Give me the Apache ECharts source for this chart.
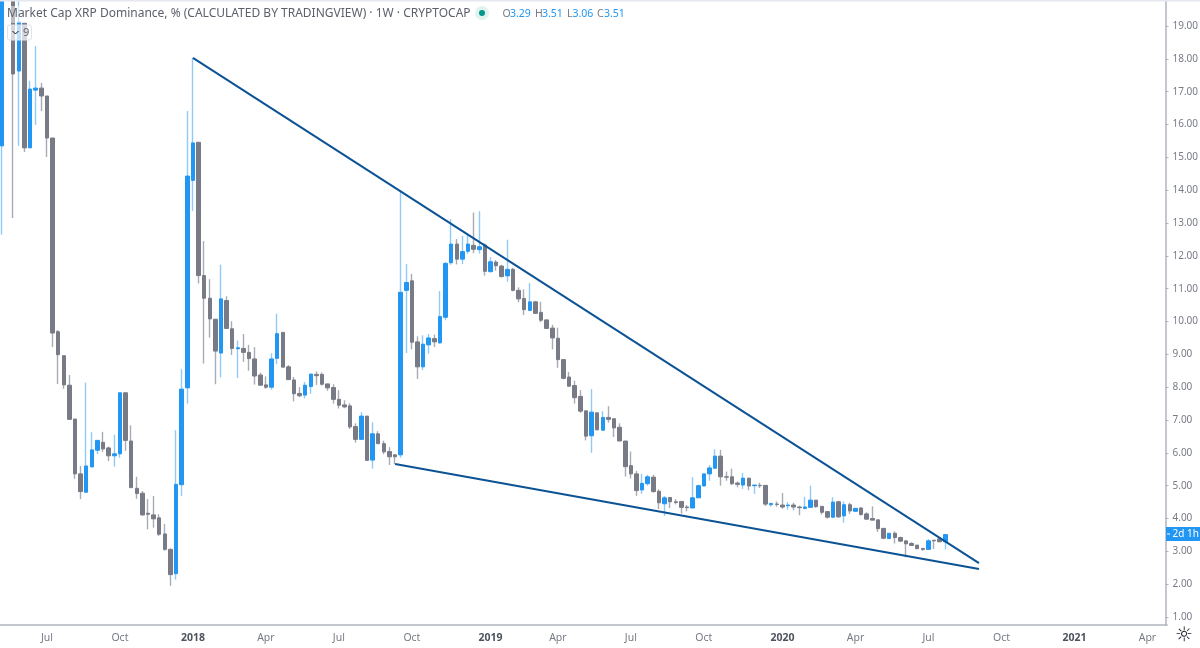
<!DOCTYPE html>
<html>
<head>
<meta charset="utf-8">
<style>html,body{margin:0;padding:0;background:#fff}#c{width:1200px;height:648px}</style>
<script src="https://cdn.jsdelivr.net/npm/echarts@6/dist/echarts.min.js"></script>
</head>
<body>
<div id="c"></div>
<script>
const FONT = '"Noto Sans", sans-serif';
const firstWeek = Date.UTC(2017, 4, 8);
const weekCount = 208;

const opens = [
15.35,21.0,21.0,17.63,19.09,15.29,17.05,17.11,16.87,15.59,
9.69,8.96,8.06,7.03,5.36,4.80,5.57,6.08,6.32,6.15,
5.91,5.97,7.83,6.36,4.92,4.77,4.16,4.11,4.02,3.53,
3.06,2.32,5.03,7.98,14.30,15.46,11.40,10.71,10.07,9.04,
10.64,9.78,9.17,9.18,9.06,8.86,8.37,8.07,8.00,8.88,
9.67,8.62,8.22,7.81,7.76,8.02,8.39,8.39,8.10,7.99,
7.63,7.46,7.43,6.80,6.41,7.12,5.78,6.58,6.28,6.04,
5.94,5.94,10.95,11.24,9.38,8.62,9.29,9.48,9.35,10.13,
11.79,12.36,11.90,12.14,12.32,12.19,12.33,11.52,11.81,11.69,
11.39,11.59,10.95,10.70,10.34,10.60,10.28,10.05,9.80,9.49,
8.84,8.31,8.05,7.72,7.28,6.52,7.22,6.69,7.08,7.04,
6.78,6.36,5.61,5.36,4.87,5.06,5.26,4.83,4.45,4.64,
4.51,4.52,4.35,4.32,4.63,4.99,5.36,5.53,5.90,5.27,
5.27,5.08,5.02,5.23,5.00,5.01,5.01,4.42,4.44,4.41,
4.39,4.41,4.35,4.31,4.34,4.56,4.37,4.21,4.04,4.51,
4.08,4.42,4.22,4.32,4.14,4.00,3.96,3.70,3.39,3.55,
3.42,3.32,3.24,3.19,3.09,3.06,3.34,3.38,3.29];

const closes = [
21.0,22.5,17.54,19.12,15.29,17.08,17.11,16.87,15.59,9.65,
8.99,8.07,7.02,5.36,4.82,5.60,6.09,6.38,6.12,5.91,
5.97,7.83,6.38,4.94,4.76,4.11,4.13,3.99,3.52,3.06,
2.29,5.04,7.94,14.43,15.44,11.40,10.71,10.08,9.10,10.69,
9.79,9.18,9.20,9.06,8.87,8.34,8.06,8.00,8.86,9.63,
8.61,8.23,7.80,7.74,8.06,8.40,8.35,8.09,7.98,7.63,
7.45,7.40,6.79,6.41,7.12,5.77,6.58,6.28,6.03,5.88,
5.88,10.89,11.19,9.37,8.62,9.31,9.50,9.38,10.15,11.77,
12.36,11.90,12.13,12.36,12.20,12.28,11.53,11.82,11.70,11.37,
11.59,10.95,10.69,10.36,10.60,10.25,10.04,9.79,9.50,8.84,
8.27,8.03,7.68,7.27,6.51,7.24,6.70,7.08,7.02,6.76,
6.36,5.58,5.36,4.85,5.07,5.27,4.82,4.48,4.63,4.51,
4.49,4.34,4.33,4.63,5.00,5.36,5.54,5.90,5.27,5.26,
5.06,5.04,5.23,4.99,5.02,5.00,4.44,4.46,4.43,4.35,
4.41,4.35,4.33,4.35,4.56,4.36,4.19,4.04,4.50,4.05,
4.42,4.23,4.31,4.12,3.98,3.95,3.69,3.40,3.55,3.42,
3.31,3.23,3.18,3.08,3.06,3.32,3.32,3.29,3.51];

const highs = [
22,23.5,22,20.5,19.09,17.33,18.39,17.27,16.87,15.59,
9.74,8.96,8.37,7.03,5.60,8.14,6.63,6.38,6.64,6.19,
6.55,7.83,7.83,6.84,5.27,4.84,4.59,4.69,4.13,3.83,
3.09,6.69,8.55,16.41,18.03,15.46,12.45,11.29,10.07,11.73,
10.77,10.01,9.42,9.62,9.29,9.22,8.44,8.33,9.03,10.24,
9.67,8.67,8.31,8.00,8.16,8.40,8.48,8.45,8.10,8.09,
7.91,7.60,7.51,6.90,7.24,7.12,6.93,6.66,6.37,6.17,
5.96,13.98,11.75,11.45,9.55,9.58,9.62,9.60,10.93,11.81,
13.12,12.51,12.61,12.64,13.32,13.36,12.38,11.96,11.87,11.73,
12.49,11.64,11.04,10.98,11.17,10.63,10.60,10.05,9.90,9.81,
8.84,8.46,8.20,7.91,7.28,7.94,7.22,7.27,7.42,7.04,
6.90,6.36,6.04,5.45,5.36,5.33,5.33,4.89,4.69,4.64,
4.59,4.52,4.41,5.26,5.03,5.36,5.63,6.11,6.09,5.43,
5.52,5.13,5.39,5.23,5.02,5.09,5.01,4.46,4.52,4.78,
4.50,4.48,4.39,4.66,5.00,4.56,4.37,4.21,4.65,4.54,
4.52,4.48,4.31,4.35,4.19,4.37,3.96,3.70,3.55,3.61,
3.45,3.32,3.28,3.19,3.09,3.37,3.34,3.38,3.51];

const lows = [
12.64,20.4,13.15,15.35,15.16,15.29,15.99,16.41,15.01,9.22,
8.10,7.95,7.02,5.21,4.59,4.80,5.57,5.96,6.03,5.75,
5.58,5.85,6.06,4.94,4.60,4.08,3.67,3.72,3.47,3.02,
1.95,2.14,4.69,7.50,13.37,11.16,8.72,9.51,8.09,8.30,
9.79,8.98,8.28,8.77,8.50,8.08,8.06,7.95,7.92,8.70,
8.61,8.23,7.57,7.69,7.66,7.80,8.07,8.05,7.89,7.50,
7.35,7.36,6.73,6.31,6.41,5.77,5.52,6.28,5.96,5.63,
5.66,5.85,9.04,9.15,8.25,8.52,9.02,9.22,9.32,10.04,
11.73,11.74,11.75,12.06,12.08,12.07,11.40,11.49,11.55,11.34,
11.21,10.92,10.59,10.20,10.31,10.23,9.98,9.79,9.15,8.59,
8.24,8.03,7.50,7.22,6.38,6.00,6.70,6.69,6.92,6.48,
6.36,5.28,5.22,4.69,4.75,5.00,4.79,4.29,4.08,4.32,
4.43,4.15,4.22,4.32,4.63,4.99,5.15,5.53,5.00,5.15,
5.02,4.95,4.90,4.86,4.75,4.93,4.38,4.36,4.36,4.30,
4.27,4.25,4.10,4.28,4.34,4.33,4.12,4.00,4.01,4.02,
3.87,4.14,4.22,4.09,3.96,3.95,3.59,3.37,3.39,3.24,
3.28,2.82,3.16,3.08,3.01,3.06,3.07,3.29,3.06];

const tickDates = ['2017-07-03','2017-10-02','2018-01-01','2018-04-02','2018-07-02','2018-10-01','2019-01-07','2019-04-01','2019-07-01','2019-09-30','2020-01-06','2020-04-06','2020-07-06','2020-10-05','2021-01-04','2021-04-05'];
const tickLabels = ['Jul','Oct','2018','Apr','Jul','Oct','2019','Apr','Jul','Oct','2020','Apr','Jul','Oct','2021','Apr'];

const upperTrend = [['2018-01-01', 18.03], ['2020-09-07', 2.64]];
const lowerTrend = [['2018-09-10', 5.66], ['2020-09-07', 2.46]];

const dates = [];
for (let i = 0; i < weekCount; i++) dates.push(new Date(firstWeek + i * 604800000).toISOString().slice(0, 10));
const labelOf = Object.fromEntries(tickDates.map((d, i) => [d, tickLabels[i]]));
const isTick = (i, v) => v in labelOf;

const wickData = opens.map((o, i) => [o, closes[i], lows[i], highs[i]]);
const bodyData = opens.map((o, i) => [o, closes[i], Math.min(o, closes[i]), Math.max(o, closes[i])]);

const UP = '#2196f3', DOWN = '#787b86', TEXT = '#787b86', AXIS = '#b2b5be', TREND = '#0b5394';

const txt = (x, y, text, fill, extra) => ({
  type: 'text', x, y, z: 110, silent: true,
  style: Object.assign({ text, fill, font: '10.5px ' + FONT, textVerticalAlign: 'middle' }, extra || {})
});

const chart = echarts.init(document.getElementById('c'), null, { renderer: 'canvas' });
chart.setOption({
  animation: false,
  backgroundColor: '#ffffff',
  grid: { left: -0.8, width: 1167.9, top: -6.77, height: 656.6, containLabel: false, outerBoundsMode: 'none' },
  xAxis: {
    type: 'category', data: dates, boundaryGap: true, offset: -24.6,
    axisLine: { onZero: false, lineStyle: { color: AXIS, width: 1.5 } },
    axisTick: { alignWithLabel: true, interval: isTick, length: 3, lineStyle: { color: AXIS } },
    axisLabel: {
      interval: isTick, margin: 7, color: TEXT, fontFamily: FONT, fontSize: 10.5,
      formatter: v => { const t = labelOf[v]; return /^\d/.test(t) ? '{y|' + t + '}' : t; },
      rich: { y: { fontWeight: 'bold', color: '#4c525e', fontFamily: FONT, fontSize: 10.5 } }
    },
    splitLine: { show: false }
  },
  yAxis: {
    type: 'value', position: 'right', min: 0, max: 20, interval: 1, offset: -1.6,
    axisLine: { show: true, lineStyle: { color: AXIS, width: 1.5 } },
    axisTick: { show: true, length: 3, lineStyle: { color: AXIS } },
    axisLabel: {
      show: true, margin: 7, color: TEXT, fontFamily: FONT, fontSize: 10,
      showMinLabel: false, showMaxLabel: false,
      formatter: v => v.toFixed(2)
    },
    splitLine: { show: false }
  },
  series: [
    { type: 'candlestick', name: 'wicks', data: wickData, barWidth: 1, z: 2,
      itemStyle: { color: '#90caf9', color0: '#a8abb5', borderColor: '#90caf9', borderColor0: '#a8abb5', borderWidth: 1.4 } },
    { type: 'candlestick', name: 'bodies', data: bodyData, barWidth: 4, z: 3,
      itemStyle: { color: UP, color0: DOWN, borderColor: UP, borderColor0: DOWN, borderWidth: 1 } },
    { type: 'line', name: 'upper', data: upperTrend, showSymbol: false, symbol: 'none', z: 4, lineStyle: { color: TREND, width: 2 } },
    { type: 'line', name: 'lower', data: lowerTrend, showSymbol: false, symbol: 'none', z: 4, lineStyle: { color: TREND, width: 2 } }
  ],
  graphic: [
    { type: 'rect', z: 100, silent: true, shape: { x: 0, y: 0, width: 1200, height: 1.5 }, style: { fill: '#e6e8f0' } },
    { type: 'rect', z: 100, silent: true, shape: { x: 1159, y: 626, width: 41, height: 22 }, style: { fill: '#ffffff' } },
    { type: 'rect', z: 100, silent: true, shape: { x: 4, y: 6, width: 458, height: 17 }, style: { fill: 'rgba(255,255,255,0.5)' } },
    txt(7, 14, 'Market Cap XRP Dominance, % (CALCULATED BY TRADINGVIEW) \u00b7 1W \u00b7 CRYPTOCAP', '#5d606b', { font: '12px ' + FONT }),
    { type: 'circle', z: 105, silent: true, shape: { cx: 482, cy: 13, r: 7 }, style: { fill: '#e2f2ef' } },
    { type: 'circle', z: 106, silent: true, shape: { cx: 482, cy: 13, r: 3 }, style: { fill: '#009688' } },
    txt(502.5, 14, 'O', TEXT), txt(510, 14, '3.29', UP),
    txt(535, 14, 'H', TEXT), txt(542, 14, '3.51', UP),
    txt(567, 14, 'L', TEXT), txt(572.5, 14, '3.06', UP),
    txt(597, 14, 'C', TEXT), txt(604, 14, '3.51', UP),
    { type: 'rect', z: 105, silent: true, shape: { x: 7.5, y: 25, width: 24, height: 15, r: 2 }, style: { fill: 'rgba(255,255,255,0.7)', stroke: '#e0e3eb', lineWidth: 1 } },
    { type: 'polyline', z: 106, silent: true, shape: { points: [[12.5, 31], [15.5, 34], [18.5, 31]] }, style: { stroke: '#131722', fill: null, lineWidth: 1 } },
    txt(23, 32.5, '9', '#5d606b', { font: '11px ' + FONT }),
    { type: 'rect', z: 105, silent: true, shape: { x: 1166, y: 527, width: 34, height: 14 }, style: { fill: UP } },
    { type: 'rect', z: 106, silent: true, shape: { x: 1167, y: 533.5, width: 3, height: 1 }, style: { fill: '#ffffff' } },
    txt(1172.5, 534.5, '2d 1h', '#ffffff', { font: '10px ' + FONT }),
    txt(1184, 636, '\u263c', '#131722', { font: '20px "DejaVu Sans"', textAlign: 'center' })
  ]
});
</script>
</body>
</html>
